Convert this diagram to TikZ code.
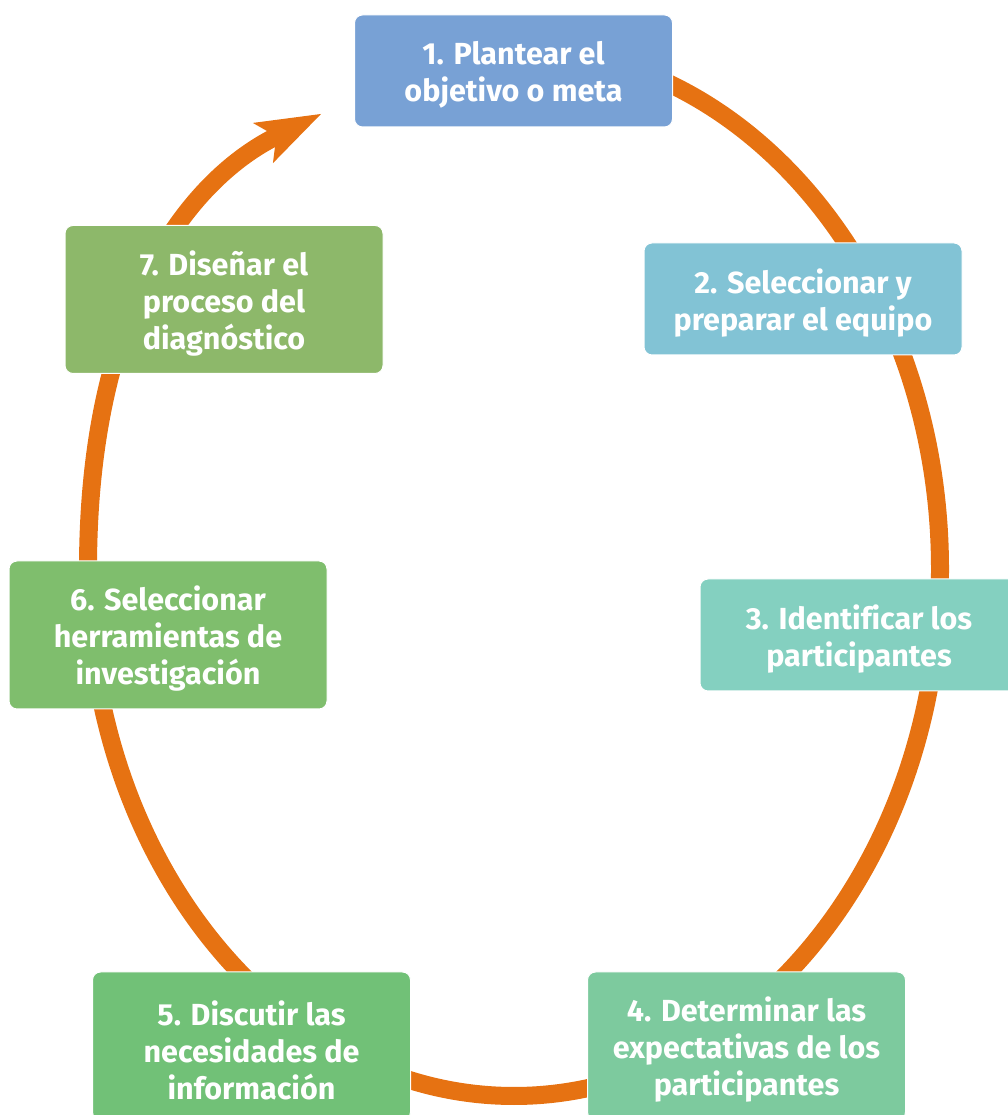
\documentclass[tikz,border=0pt]{standalone}
\usepackage{fontspec}
\setmainfont{Fira Sans}[Ligatures=NoCommon]
\usetikzlibrary{arrows.meta}
\definecolor{orng}{HTML}{E67212}
\definecolor{cA}{HTML}{78A1D5}
\definecolor{cB}{HTML}{82C3D5}
\definecolor{cC}{HTML}{84D0C0}
\definecolor{cD}{HTML}{7DCA9E}
\definecolor{cE}{HTML}{71C177}
\definecolor{cF}{HTML}{7FBE6D}
\definecolor{cG}{HTML}{8DB86A}
\tikzset{
  stepbox/.style={rectangle, rounded corners=8pt, draw=white, line width=1pt,
    inner sep=0pt, minimum width=318pt},
  steptext/.style={text=white, align=center, inner sep=0pt,
    font=\bfseries\fontsize{30.5}{37}\selectfont},
  ring/.style={draw=orng, line width=18pt}
}
\begin{document}
\begin{tikzpicture}[x=1pt,y=1pt]
\useasboundingbox (0,0) rectangle (1008,1115);
\clip (0,0) rectangle (1008,1115);
% ring path
\coordinate (top) at (514,1067);
\coordinate (tip) at (321,1001);
\draw[ring, -{Stealth[length=65pt,width=45pt,inset=15pt,line width=0pt]}]
  (top) arc[start angle=90, end angle=0, x radius=426, y radius=521]
  arc[start angle=0, end angle=-90, x radius=426, y radius=527]
  arc[start angle=-90, end angle=-180, x radius=426, y radius=527]
  .. controls (88,805) and (187,934) .. (tip);
% boxes
\node[stepbox, fill=cA, minimum height=112pt] (s1) at (513.5,1044) {};
\node[stepbox, fill=cB, minimum height=112pt] (s2) at (803,816) {};
\node[stepbox, fill=cC, minimum height=112pt] (s3) at (859,480) {};
\node[stepbox, fill=cD, minimum height=148pt] (s4) at (746.5,69) {};
\node[stepbox, fill=cE, minimum height=148pt] (s5) at (251.5,69) {};
\node[stepbox, fill=cF, minimum height=148pt] (s6) at (168,480) {};
\node[stepbox, fill=cG, minimum height=148pt] (s7) at (224,815.5) {};
% texts
\node[steptext] (t1) at ([yshift=-4pt]s1.center) {1. Plantear el\\objetivo o meta};
\node[steptext] (t2) at ([yshift=-4pt]s2.center) {2. Seleccionar y\\preparar el equipo};
\node[steptext] (t3) at ([yshift=-4pt]s3.center) {3. Identificar los\\participantes};
\node[steptext] (t4) at ([yshift=-4pt]s4.center) {4. Determinar las\\expectativas de los\\participantes};
\node[steptext] (t5) at ([yshift=-4pt]s5.center) {5. Discutir las\\necesidades de\\información};
\node[steptext] (t6) at ([yshift=-4pt]s6.center) {6. Seleccionar\\herramientas de\\investigación};
\node[steptext] (t7) at ([yshift=-4pt]s7.center) {7. Diseñar el\\proceso del\\diagnóstico};
\end{tikzpicture}
\end{document}
